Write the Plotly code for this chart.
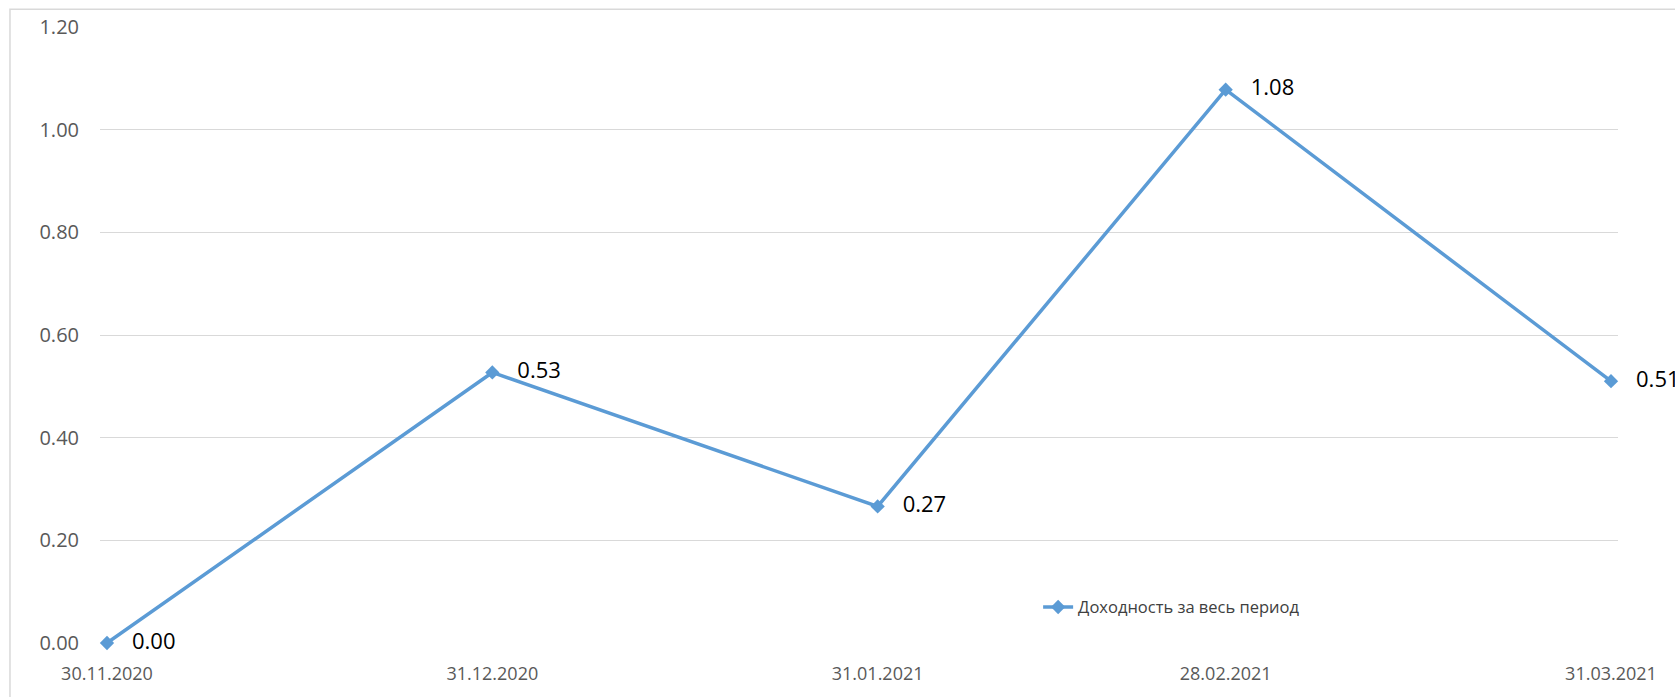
import plotly.graph_objects as go

dates = ["2020-11-30", "2020-12-31", "2021-01-31", "2021-02-28", "2021-03-31"]
tick_labels = ["30.11.2020", "31.12.2020", "31.01.2021", "28.02.2021", "31.03.2021"]
values = [0.000, 0.527, 0.266, 1.078, 0.510]
series_name = "Доходность за весь период"
y_ticks = [0.0, 0.2, 0.4, 0.6, 0.8, 1.0, 1.2]

FONT = "Open Sans"
LINE_COLOR = "#5B9BD5"
GRID = "#D9D9D9"
TICK_COLOR = "#595959"

fig = go.Figure()
fig.add_trace(go.Scatter(
    x=dates, y=values, name=series_name,
    mode="lines+markers+text",
    line=dict(color=LINE_COLOR, width=3.5),
    marker=dict(symbol="diamond", size=11, color=LINE_COLOR),
    text=["   " + f"{v:.2f}" for v in values],
    textposition="middle right",
    textfont=dict(family=FONT, size=22, color="#000000"),
    cliponaxis=False,
))

fig.update_layout(
    width=1675, height=697,
    margin=dict(l=100, r=57, t=27, b=51),
    paper_bgcolor="white", plot_bgcolor="white",
    font=dict(family=FONT, size=18, color=TICK_COLOR),
    showlegend=True,
    legend=dict(x=0.618, y=0.058, xanchor="left", yanchor="middle",
                bgcolor="rgba(0,0,0,0)", font=dict(family=FONT, size=16.5, color="#404040")),
    xaxis=dict(type="date", range=["2020-11-29 10:30", "2021-03-31 13:30"],
               tickvals=dates, ticktext=tick_labels, showgrid=False, zeroline=False,
               showline=False, ticks="", ticklabelstandoff=18,
               tickfont=dict(family=FONT, size=18, color=TICK_COLOR)),
    yaxis=dict(range=[0, 1.2], tickvals=y_ticks, tickformat=".2f", showgrid=True,
               gridcolor=GRID, gridwidth=1, zeroline=False, showline=False, ticks="",
               ticklabelstandoff=20, tickfont=dict(family=FONT, size=20, color=TICK_COLOR)),
    shapes=[dict(type="rect", xref="paper", yref="paper", x0=-0.0593, x1=1.1,
                 y0=-0.3, y1=1.029, line=dict(color=GRID, width=1.5), layer="below")],
)

fig.write_html("out.html", config={"displayModeBar": False},
               post_script="document.body.style.margin='0';")
